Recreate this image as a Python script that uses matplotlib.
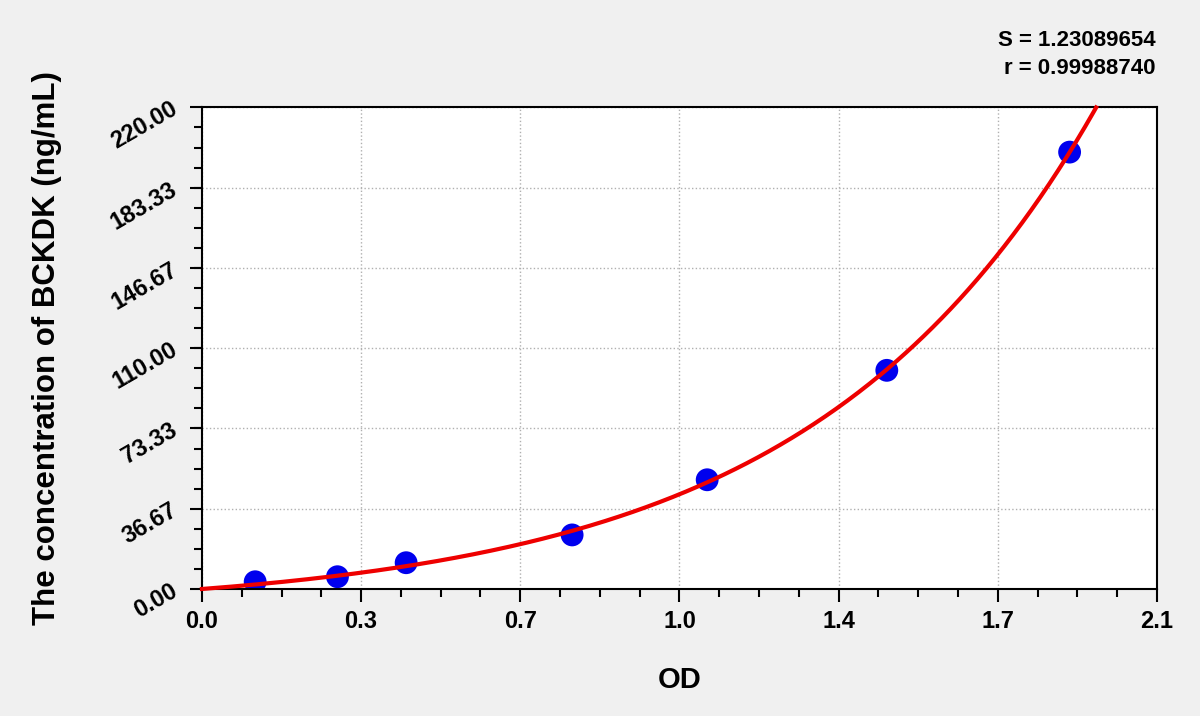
import numpy as np
import matplotlib
matplotlib.use("Agg")
from matplotlib import pyplot as plt
from matplotlib.ticker import FixedLocator, AutoMinorLocator

# standard curve readings (OD vs concentration)
od = [0.117, 0.298, 0.449, 0.814, 1.111, 1.506, 1.908]
conc = [3.3, 5.6, 12.0, 24.7, 49.9, 99.9, 199.6]

x_ticks = [0.0, 0.35, 0.70, 1.05, 1.40, 1.75, 2.10]
x_labels = ["0.0", "0.3", "0.7", "1.0", "1.4", "1.7", "2.1"]
y_ticks = [0.00, 36.67, 73.33, 110.00, 146.67, 183.33, 220.00]
y_labels = ["0.00", "36.67", "73.33", "110.00", "146.67", "183.33", "220.00"]

s_text = "S = 1.23089654"
r_text = "r = 0.99988740"

plt.rcParams['font.family'] = ['Liberation Sans', 'DejaVu Sans']
plt.rcParams['font.weight'] = 'bold'

# fit y = a*(exp(b*x)-1) to the points
xd = np.array(od)
yd = np.array(conc)
best = None
for b in np.linspace(0.5, 3.0, 2501):
    g = np.exp(b * xd) - 1
    a = (g @ yd) / (g @ g)
    err = ((a * g - yd) ** 2).sum()
    if best is None or err < best[0]:
        best = (err, a, b)
_, a_fit, b_fit = best
x_end = np.log(220.0 / a_fit + 1) / b_fit
xs = np.linspace(0, x_end, 400)
ys = a_fit * (np.exp(b_fit * xs) - 1)

fig = plt.figure(figsize=(12, 7.16), dpi=100, facecolor='#f0f0f0')
ax = fig.add_axes([0.1683, 0.1774, 0.7958, 0.6725])
ax.set_facecolor('white')

ax.plot(xs, ys, color='#ee0000', lw=3, zorder=3, clip_on=False)
ax.scatter(od, conc, s=270, color='#0000ee', zorder=2, edgecolors='none')

ax.set_xlim(0, 2.1)
ax.set_ylim(0, 220)
ax.xaxis.set_major_locator(FixedLocator(x_ticks))
ax.yaxis.set_major_locator(FixedLocator(y_ticks))
ax.set_xticklabels(x_labels, fontsize=17, fontweight='bold')
ax.set_yticklabels(y_labels, fontsize=17, fontweight='bold', rotation=30,
                   ha='right', va='center', rotation_mode='anchor')
ax.xaxis.set_minor_locator(AutoMinorLocator(4))
ax.yaxis.set_minor_locator(AutoMinorLocator(4))
ax.tick_params(which='major', length=9, width=1.5, pad=6)
ax.tick_params(which='minor', length=6, width=1.5)
ax.tick_params(axis='y', which='major', pad=10)

ax.grid(True, which='major', linestyle=':', color='#b0b0b0', lw=1)
ax.set_axisbelow(True)
for sp in ax.spines.values():
    sp.set_linewidth(1.5)

ax.set_xlabel("OD", fontsize=21, fontweight='bold', labelpad=24)
ax.set_ylabel("The concentration of BCKDK (ng/mL)", fontsize=22.5,
              fontweight='bold', labelpad=32)

fig.text(1156 / 1200, 1 - 40 / 716, s_text, ha='right', va='center',
         fontsize=16, fontweight='bold')
fig.text(1156 / 1200, 1 - 68 / 716, r_text, ha='right', va='center',
         fontsize=16, fontweight='bold')

plt.savefig("out.png", dpi=100, facecolor=fig.get_facecolor())
